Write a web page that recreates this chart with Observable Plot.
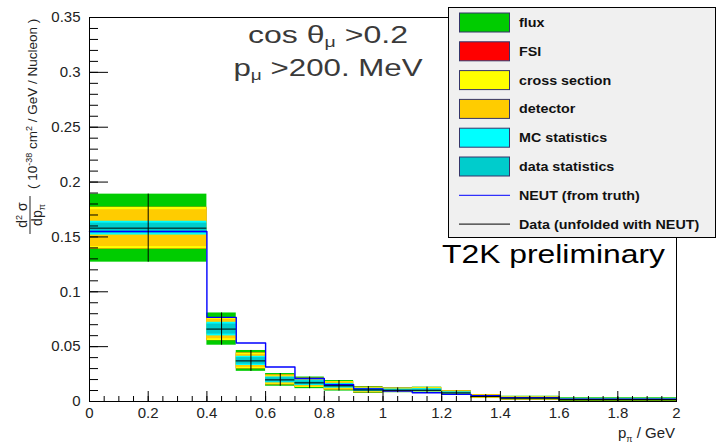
<!DOCTYPE html>
<html><head><meta charset="utf-8">
<script src="https://cdn.jsdelivr.net/npm/d3@7"></script>
<script src="https://cdn.jsdelivr.net/npm/@observablehq/plot@0.6"></script>
<style>
body{margin:0;background:#fff;}
#chart{width:717px;height:443px;}
</style></head><body><div id="chart"></div>
<script>
// ---- data (units of 1e-38 cm^2 / GeV / Nucleon) ----
const binEdges   = [0, 0.4, 0.5, 0.6, 0.7, 0.8, 0.9, 1.0, 1.1, 1.2, 1.3, 1.4, 1.6, 2.0];
const dataXsec   = [0.158, 0.066, 0.037, 0.0197, 0.017, 0.0143, 0.0105, 0.0102, 0.0102, 0.0078, 0.0045, 0.003, 0.0017];
const neutXsec   = [0.155, 0.0767, 0.0533, 0.0315, 0.021, 0.0152, 0.0115, 0.0095, 0.008, 0.0065, 0.0052, 0.0035, 0.002];
// cumulative error band half-widths
const errFlux     = [0.031, 0.0147, 0.0095, 0.0058, 0.0053, 0.0048, 0.0031, 0.0022, 0.0029, 0.002, 0.0018, 0.0018, 0.0017];
const errFSI      = [0.019, 0.0105, 0.0072, 0.0045, 0.0042, 0.0038, 0.0025, 0.0019, 0.0025, 0.0018, 0.0016, 0.0015, 0.001];
const errXsec     = [0.019, 0.0105, 0.0072, 0.0045, 0.0042, 0.0038, 0.0025, 0.0019, 0.0025, 0.0018, 0.0016, 0.0015, 0.001];
const errDetector = [0.0168, 0.0088, 0.0058, 0.0037, 0.0034, 0.003, 0.002, 0.0015, 0.002, 0.0014, 0.0012, 0.0012, 0.0008];
const errMCStat   = [0.0063, 0.0062, 0.0042, 0.0027, 0.0025, 0.0022, 0.0015, 0.0011, 0.0015, 0.001, 0.0009, 0.0008, 0.0006];
const errDataStat = [0.0046, 0.0046, 0.003, 0.002, 0.0018, 0.0016, 0.001, 0.0008, 0.001, 0.0007, 0.0006, 0.0006, 0.0004];

const legendNames  = ["flux", "FSI", "cross section", "detector", "MC statistics", "data statistics", "NEUT (from truth)", "Data (unfolded with NEUT)"];
const legendColors = ["#00cc00", "#ff0000", "#ffff00", "#ffcc00", "#00ffff", "#00cccc", "#0000ff", "#000000"];
const legendKinds  = ["box", "box", "box", "box", "box", "box", "line", "line"];

const xMajorTicks = [0, 0.2, 0.4, 0.6, 0.8, 1, 1.2, 1.4, 1.6, 1.8, 2];
const yMajorTicks = [0, 0.05, 0.1, 0.15, 0.2, 0.25, 0.3, 0.35];
const xMinorTicks = d3.range(0, 2.0001, 0.05);
const yMinorTicks = d3.range(0, 0.3501, 0.01);

// ---- build ----
const errSets = [errFlux, errFSI, errXsec, errDetector, errMCStat, errDataStat];
const bins = dataXsec.map((v, i) => ({
  lo: binEdges[i], hi: binEdges[i + 1], mid: (binEdges[i] + binEdges[i + 1]) / 2,
  data: v, tot: errFlux[i]
}));
const neutPts = binEdges.map((x, i) => ({x, y: neutXsec[Math.min(i, neutXsec.length - 1)]}));

const W = 717, H = 443, ML = 89, MR = 41, MT = 17, MB = 42;
const innerW = W - ML - MR, innerH = H - MT - MB;
const font = "'Liberation Sans', Arial, Helvetica, sans-serif";

const bandMarks = errSets.map((err, k) => Plot.rect(bins, {
  x1: "lo", x2: "hi",
  y1: (d, i) => d.data - err[i], y2: (d, i) => d.data + err[i],
  fill: legendColors[k]
}));

const plot = Plot.plot({
  width: W, height: H,
  marginLeft: ML, marginRight: MR, marginTop: MT, marginBottom: MB,
  style: {fontFamily: font, background: "white", color: "#222", overflow: "visible"},
  x: {domain: [0, 2]},
  y: {domain: [0, 0.35]},
  marks: [
    ...bandMarks,
    Plot.line(neutPts, {x: "x", y: "y", curve: "step-after", stroke: "#0000ff", strokeWidth: 1.4}),
    Plot.ruleY(bins, {y: "data", x1: "lo", x2: "hi", stroke: "black", strokeWidth: 1}),
    Plot.ruleX(bins, {x: "mid", y1: d => d.data - d.tot, y2: d => d.data + d.tot, stroke: "black", strokeWidth: 1}),
    Plot.tickY(yMinorTicks, {y: d => d, insetRight: innerW - 9, stroke: "black"}),
    Plot.tickY(yMajorTicks, {y: d => d, insetRight: innerW - 19, stroke: "black"}),
    Plot.tickX(xMinorTicks, {x: d => d, insetTop: innerH - 5, stroke: "black"}),
    Plot.tickX(xMajorTicks, {x: d => d, insetTop: innerH - 10, stroke: "black"}),
    Plot.axisX({ticks: xMajorTicks, tickSize: 0, tickPadding: 6, label: null, fontSize: 15, tickFormat: d => String(d)}),
    Plot.axisY({ticks: yMajorTicks, tickSize: 0, tickPadding: 9, label: null, fontSize: 15, tickFormat: d => String(+d.toFixed(2))}),
    Plot.frame({stroke: "black"})
  ]
});
document.getElementById("chart").appendChild(plot);

const svg = d3.select(plot);

// annotations
const ann = svg.append("g").attr("font-family", font).attr("fill", "#3a3a3a");
const t1 = ann.append("text").attr("x", 328).attr("y", 43).attr("text-anchor", "middle").attr("font-size", 23)
  .attr("textLength", 160).attr("lengthAdjust", "spacingAndGlyphs");
t1.append("tspan").text("cos θ");
t1.append("tspan").attr("font-size", 14).attr("dy", 4).text("μ");
t1.append("tspan").attr("dy", -4).text(" >0.2");
const t2 = ann.append("text").attr("x", 328).attr("y", 76).attr("text-anchor", "middle").attr("font-size", 23)
  .attr("textLength", 189).attr("lengthAdjust", "spacingAndGlyphs");
t2.append("tspan").text("p");
t2.append("tspan").attr("font-size", 14).attr("dy", 4).text("μ");
t2.append("tspan").attr("dy", -4).text(" >200. MeV");

svg.append("text").attr("x", 442).attr("y", 263).attr("text-anchor", "start").attr("font-family", font).attr("font-size", 25)
  .attr("fill", "#000").attr("textLength", 223).attr("lengthAdjust", "spacingAndGlyphs").text("T2K preliminary");

// x-axis title
const xt = svg.append("text").attr("x", 675).attr("y", 438).attr("text-anchor", "end")
  .attr("font-family", font).attr("font-size", 15).attr("fill", "#222");
xt.append("tspan").text("p");
xt.append("tspan").attr("font-size", 9).attr("dy", 4).text("π");
xt.append("tspan").attr("dy", -4).text(" / GeV");

// y-axis title (rotated)
const yl = svg.append("g").attr("transform", "translate(30,0) rotate(-90)")
  .attr("font-family", font).attr("fill", "#222");
yl.append("line").attr("x1", -234).attr("x2", -196).attr("y1", 0).attr("y2", 0).attr("stroke", "#222").attr("stroke-width", 1);
const num = yl.append("text").attr("x", -215).attr("y", -3).attr("text-anchor", "middle").attr("font-size", 14);
num.append("tspan").text("d");
num.append("tspan").attr("font-size", 9).attr("dy", -5).text("2");
num.append("tspan").attr("dy", 5).text(" σ");
const den = yl.append("text").attr("x", -215).attr("y", 12).attr("text-anchor", "middle").attr("font-size", 14);
den.append("tspan").text("dp");
den.append("tspan").attr("font-size", 9).attr("dy", 3).text("π");
const unit = yl.append("text").attr("x", -189).attr("y", 7).attr("text-anchor", "start").attr("font-size", 13.5);
unit.append("tspan").text("( 10");
unit.append("tspan").attr("font-size", 9).attr("dy", -5).text("-38");
unit.append("tspan").attr("dy", 5).text(" cm");
unit.append("tspan").attr("font-size", 9).attr("dy", -5).text("2");
unit.append("tspan").attr("dy", 5).text(" / GeV / Nucleon )");

// legend
const lg = svg.append("g").attr("font-family", font);
lg.append("rect").attr("x", 448.5).attr("y", 7.5).attr("width", 267).attr("height", 230)
  .attr("fill", "#f0f0f0").attr("stroke", "#000").attr("stroke-width", 1);
legendNames.forEach((name, i) => {
  const cy = 22.5 + i * 28.8;
  if (legendKinds[i] === "box") {
    lg.append("rect").attr("x", 459.5).attr("y", cy - 9.5).attr("width", 50).attr("height", 19)
      .attr("fill", legendColors[i]).attr("stroke", "#35356a").attr("stroke-width", 1);
  } else {
    lg.append("line").attr("x1", 459).attr("x2", 510).attr("y1", cy).attr("y2", cy)
      .attr("stroke", legendColors[i]).attr("stroke-width", 1);
  }
  lg.append("text").attr("transform", `translate(519,${cy + 4.5}) scale(1.1,1)`)
    .attr("text-anchor", "start").attr("font-size", 13).attr("font-weight", "bold")
    .attr("fill", "#111").text(name);
});
</script></body></html>
